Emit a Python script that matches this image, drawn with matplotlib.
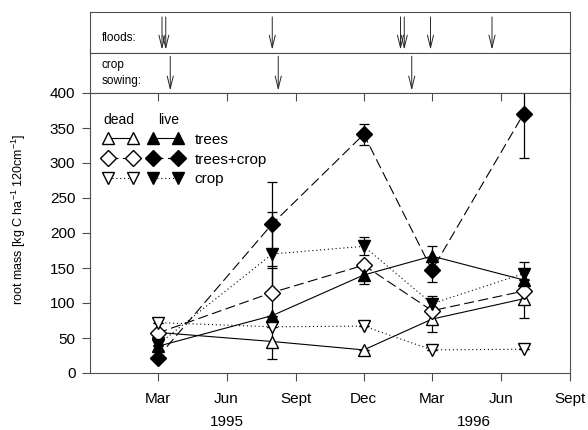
import numpy as np
import matplotlib
matplotlib.use("Agg")
import matplotlib.pyplot as plt
import matplotlib.dates as mdates
import matplotlib.transforms as mtransforms
from matplotlib.ticker import FuncFormatter, FixedLocator

plt.rcParams['font.family'] = ['Liberation Sans', 'DejaVu Sans']
plt.rcParams['mathtext.default'] = 'regular'

# sampling dates
dates = np.array(['1995-03-01', '1995-08-01', '1995-12-01',
                  '1996-03-01', '1996-07-01'], dtype='datetime64[D]')

# root mass [kg C ha-1 120cm-1]
dead_trees = [58, 45, 33, 77, 106]
dead_tc = [57, 115, 154, 89, 117]
dead_crop = [72, 66, 67, 33, 34]
live_trees = [38, 82, 140, 167, 133]
live_tc = [22, 213, 341, 147, 370]
live_crop = [40, 170, 181, 99, 142]

# error bars (+/-)
dead_trees_err = [0, 25, 0, 18, 28]
dead_tc_err = [0, 35, 0, 0, 0]
dead_crop_err = [0, 0, 0, 0, 0]
live_trees_err = [0, 0, 13, 14, 0]
live_tc_err = [0, 60, 15, 17, 63]
live_crop_err = [0, 60, 13, 11, 17]

floods = np.array(['1995-03-07', '1995-03-12', '1995-08-01', '1996-01-19',
                   '1996-01-24', '1996-02-28', '1996-05-20'], dtype='datetime64[D]')
sowing = np.array(['1995-03-18', '1995-08-09', '1996-02-03'], dtype='datetime64[D]')

month_ticks = np.array(['1995-03-01', '1995-06-01', '1995-09-01', '1995-12-01',
                        '1996-03-01', '1996-06-01', '1996-09-01'], dtype='datetime64[D]')
month_names = {3: 'Mar', 6: 'Jun', 9: 'Sept', 12: 'Dec'}
years = ['1995', '1996']
year_pos = np.array(['1995-06-01', '1996-04-26'], dtype='datetime64[D]')

xmin = np.datetime64('1994-12-01')
xmax = np.datetime64('1996-09-01')

fig = plt.figure(figsize=(5.88, 4.30), dpi=100)
L, R = 90 / 588, 570 / 588
ax_fl = fig.add_axes([L, 1 - 53 / 430, R - L, 41 / 430])
ax_sw = fig.add_axes([L, 1 - 93 / 430, R - L, 40 / 430], sharex=ax_fl)
ax = fig.add_axes([L, 1 - 373 / 430, R - L, 280 / 430], sharex=ax_fl)

arrow = dict(arrowstyle='->,head_width=0.22,head_length=0.9', lw=0.7, color='0.15',
             shrinkA=0, shrinkB=0)
for a, evts, y0, y1 in [(ax_fl, floods, 0.88, 0.08), (ax_sw, sowing, 0.92, 0.06)]:
    a.set_ylim(0, 1)
    for d in evts:
        a.annotate('', xy=(d, y1), xytext=(d, y0), arrowprops=arrow)
    for s in a.spines.values():
        s.set_linewidth(0.8)
        s.set_color('0.3')
    a.tick_params(left=False, bottom=False, labelleft=False, labelbottom=False)
ax_fl.text(0.025, 0.3, 'floods:', transform=ax_fl.transAxes, fontsize=8.5)
ax_sw.text(0.025, 0.5, 'crop\nsowing:', transform=ax_sw.transAxes, fontsize=8.5,
           va='center', linespacing=1.35)

common = dict(color='black', lw=0.8, capsize=3.5, elinewidth=0.9, capthick=0.9)
dash = (0, (9, 4))
dot = (0, (1, 2.5))

h_dt = ax.errorbar(dates, dead_trees, yerr=dead_trees_err, fmt='^', ls='-', ms=9,
                   mfc='white', mec='black', **common)
h_dtc = ax.errorbar(dates, dead_tc, yerr=dead_tc_err, fmt='D', ls=dash, ms=8,
                    mfc='white', mec='black', **common)
h_dc = ax.errorbar(dates, dead_crop, yerr=dead_crop_err, fmt='v', ls=dot, ms=9,
                   mfc='white', mec='black', **common)
h_lt = ax.errorbar(dates, live_trees, yerr=live_trees_err, fmt='^', ls='-', ms=9,
                   mfc='black', mec='black', **common)
h_ltc = ax.errorbar(dates, live_tc, yerr=live_tc_err, fmt='D', ls=dash, ms=8,
                    mfc='black', mec='black', **common)
h_lc = ax.errorbar(dates, live_crop, yerr=live_crop_err, fmt='v', ls=dot, ms=9,
                   mfc='black', mec='black', **common)

ax.set_xlim(xmin, xmax)
ax.set_ylim(0, 400)
ax.set_yticks(np.arange(0, 401, 50))
ax.xaxis.set_major_locator(FixedLocator(mdates.date2num(month_ticks)))
ax.xaxis.set_major_formatter(FuncFormatter(
    lambda v, p: month_names[mdates.num2date(v).month]))
ax.tick_params(direction='out', length=6, width=0.8, color='0.3', labelsize=11)
ax.tick_params(axis='x', pad=8)
ax.tick_params(axis='y', pad=4.5)
for s in ax.spines.values():
    s.set_linewidth(0.8)
    s.set_color('0.3')

# inward ticks along the top edge of the main panel
top = ax.secondary_xaxis('top')
top.set_xticks(mdates.date2num(month_ticks))
top.tick_params(direction='in', length=6, width=0.8, color='0.3', labeltop=False)
top.spines['top'].set_visible(False)

trans = mtransforms.blended_transform_factory(ax.transData, ax.transAxes)
for yr, d in zip(years, year_pos):
    ax.text(d, -0.175, yr, transform=trans, ha='center', va='center', fontsize=11)

ax.set_ylabel('root mass [kg C ha$^{-1}$ 120cm$^{-1}$]', fontsize=9)
ax.yaxis.set_label_coords(-0.13, 0.55)

handles = [h[0] for h in [h_dt, h_dtc, h_dc, h_lt, h_ltc, h_lc]]
labels = ['', '', '', 'trees', 'trees+crop', 'crop']
leg = ax.legend(handles, labels, ncol=2, numpoints=2, frameon=False, loc='upper left',
                bbox_to_anchor=(0.015, 0.88), fontsize=11, handlelength=2.24,
                handletextpad=0.8, columnspacing=-0.1, labelspacing=0.38,
                borderaxespad=0.0)
ax.text(0.06, 0.905, 'dead', transform=ax.transAxes, ha='center', va='center', fontsize=10)
ax.text(0.163, 0.905, 'live', transform=ax.transAxes, ha='center', va='center', fontsize=10)

fig.savefig('out.png', dpi=100)
